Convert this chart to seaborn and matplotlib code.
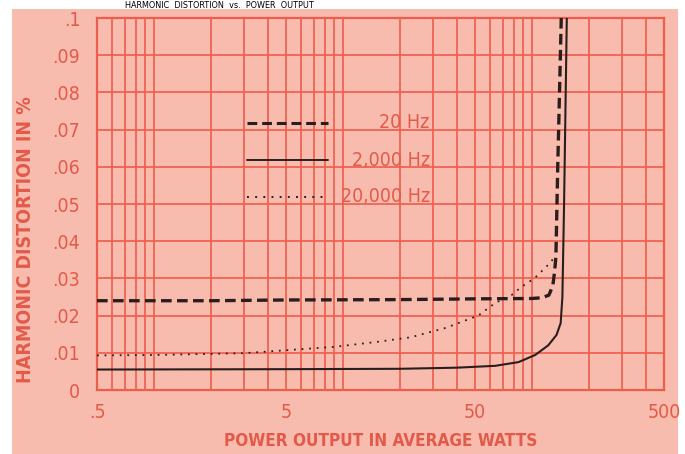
import matplotlib
matplotlib.use("Agg")
import matplotlib.pyplot as plt
from matplotlib.patches import Rectangle
from matplotlib.ticker import FixedLocator, LogLocator, NullFormatter
import seaborn as sns
import pandas as pd

# ---- data ----
watts_20hz = [0.5, 2, 5, 20, 50, 100, 113, 123, 129, 132, 134, 137, 140, 143]
dist_20hz = [0.024, 0.024, 0.0242, 0.0243, 0.0245, 0.0246, 0.0248, 0.0255, 0.028, 0.032, 0.036, 0.06, 0.08, 0.1]

watts_2khz = [0.5, 5, 20, 40, 64, 85, 104, 122, 135, 142, 145, 148, 153]
dist_2khz = [0.0055, 0.0056, 0.0057, 0.006, 0.0065, 0.0075, 0.0094, 0.012, 0.0148, 0.018, 0.025, 0.05, 0.1]

watts_20khz = [0.5, 1, 3, 9, 15, 23, 35, 52, 64, 78, 88, 103, 124, 133]
dist_20khz = [0.0093, 0.0094, 0.0099, 0.0116, 0.0129, 0.0142, 0.0167, 0.020, 0.0234, 0.0255, 0.0277, 0.030, 0.034, 0.036]

series_labels = ["20 Hz", "2,000 Hz", "20,000 Hz"]
x_tick_values = [0.5, 5, 50, 500]
x_tick_labels = [".5", "5", "50", "500"]
y_tick_values = [0, 0.01, 0.02, 0.03, 0.04, 0.05, 0.06, 0.07, 0.08, 0.09, 0.1]
y_tick_labels = ["0", ".01", ".02", ".03", ".04", ".05", ".06", ".07", ".08", ".09", ".1"]

# ---- style ----
sns.set_theme(style="white")
plt.rcParams["font.family"] = ["DejaVu Sans"]
plt.rcParams["font.stretch"] = "condensed"

SALMON = "#F8BCAF"
RED_GRID = "#EE5C4C"
RED_TEXT = "#E25A4A"
INK = "#2A1E1C"

fig = plt.figure(figsize=(6.85, 4.54), dpi=100, facecolor="white")
fig.patches.append(Rectangle((12 / 685, 0), (678 - 12) / 685, 1 - 9 / 454,
                             transform=fig.transFigure, facecolor=SALMON,
                             edgecolor="none", zorder=-10))
ax = fig.add_axes([97 / 685, 1 - 390 / 454, (664 - 97) / 685, (390 - 18) / 454])
ax.set_zorder(1)
ax.set_facecolor(SALMON)

df20 = pd.DataFrame({"w": watts_20hz, "d": dist_20hz})
df2k = pd.DataFrame({"w": watts_2khz, "d": dist_2khz})
df20k = pd.DataFrame({"w": watts_20khz, "d": dist_20khz})

sns.lineplot(data=df20, x="w", y="d", ax=ax, sort=False, color=INK, lw=2.4,
             estimator=None, zorder=5)
ax.lines[-1].set_dashes([3.2, 1.6])
sns.lineplot(data=df2k, x="w", y="d", ax=ax, sort=False, color=INK, lw=1.5,
             estimator=None, zorder=5)
sns.lineplot(data=df20k, x="w", y="d", ax=ax, sort=False, color=INK, lw=1.3,
             estimator=None, zorder=5)
ax.lines[-1].set_dashes([1, 3.2])

ax.set_xscale("log")
ax.set_xlim(0.5, 500)
ax.set_ylim(0, 0.1)

ax.xaxis.set_major_locator(FixedLocator(x_tick_values))
ax.set_xticklabels(x_tick_labels)
ax.xaxis.set_minor_locator(LogLocator(base=10, subs=range(1, 10), numticks=20))
ax.xaxis.set_minor_formatter(NullFormatter())
ax.set_yticks(y_tick_values)
ax.set_yticklabels(y_tick_labels)

ax.grid(True, which="both", axis="x", color=RED_GRID, lw=1.2)
ax.grid(True, which="major", axis="y", color=RED_GRID, lw=1.2)
ax.tick_params(axis="both", which="both", length=0, colors=RED_TEXT, labelsize=14)
ax.tick_params(axis="x", pad=9)
ax.tick_params(axis="y", pad=12)
for s in ax.spines.values():
    s.set_color(RED_GRID)
    s.set_linewidth(1.6)

ax.set_xlabel("POWER OUTPUT IN AVERAGE WATTS", color=RED_TEXT, fontsize=12.3,
              fontweight="bold")
ax.xaxis.set_label_coords(0.5, -0.112)
ax.set_ylabel("HARMONIC DISTORTION IN %", color=RED_TEXT, fontsize=14,
              fontweight="bold")
ax.yaxis.set_label_coords(-0.11, 0.405)

# ---- in-plot key ----
key_styles = [dict(lw=2.2, dashes=[3.2, 1.6]), dict(lw=1.4), dict(lw=1.4, dashes=[1, 3.2])]
key_y = [0.718, 0.618, 0.519]
for lab, st, yy in zip(series_labels, key_styles, key_y):
    ax.plot([0.265, 0.407], [yy, yy], transform=ax.transAxes, color=INK, zorder=6, **st)
    ax.text(0.587, yy, lab, transform=ax.transAxes, ha="right", va="center",
            color=RED_TEXT, fontsize=14, zorder=6)

fig.text(125 / 685, 1 - 8 / 454, "HARMONIC  DISTORTION  vs.  POWER  OUTPUT",
         ha="left", va="baseline", fontsize=6.5, color="black")

fig.savefig("out.png", dpi=100, facecolor="white")
